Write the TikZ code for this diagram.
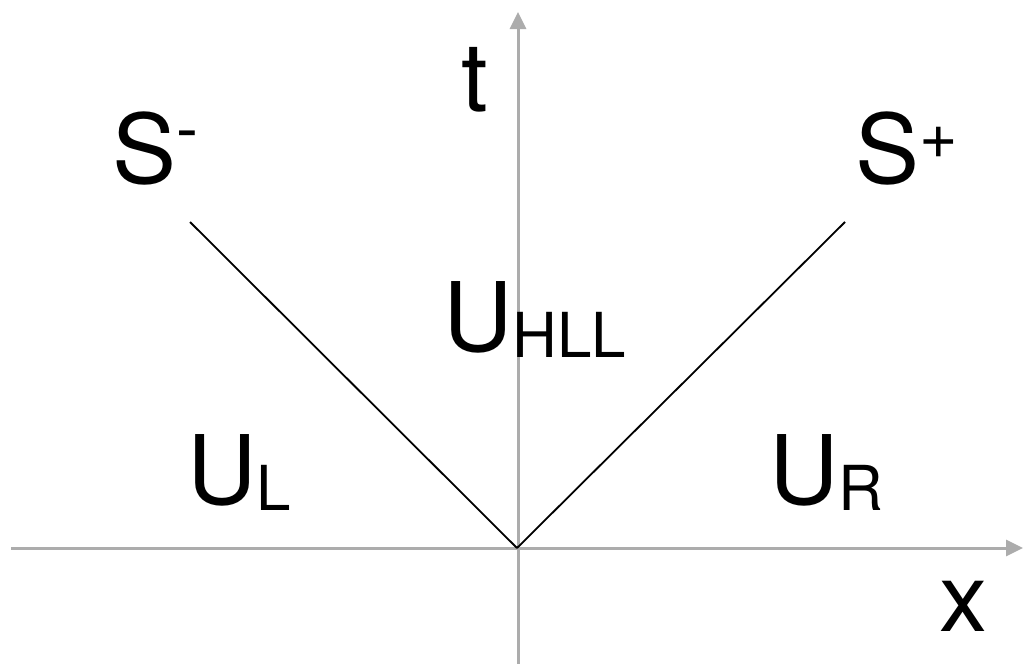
\documentclass[tikz,border=0pt]{standalone}
\usepackage{fontspec}
\setmainfont{TeX Gyre Heros}
\usetikzlibrary{arrows.meta}
\definecolor{axisgray}{RGB}{172,172,172}
\newcommand{\bigf}{\fontsize{96}{96}\selectfont}
\newcommand{\subf}[1]{\raisebox{-6pt}{\fontsize{62}{62}\selectfont #1}}
\newcommand{\supf}[3]{\raisebox{#1}{\fontsize{#2}{#2}\selectfont #3}}
\begin{document}
\begin{tikzpicture}[x=1pt,y=-1pt,
  axis/.style={draw=axisgray,line width=3pt,-{Triangle[length=17pt,width=16pt]},color=axisgray},
  shock/.style={draw=black,line width=1.8pt},
  lbl/.style={inner sep=0pt,outer sep=0pt,anchor=base west,font=\bigf}]
\useasboundingbox (0,0) rectangle (1023,664);
\coordinate (O) at (517,548);
\coordinate (xl) at (11,548);
\coordinate (xr) at (1023,548);
\coordinate (tb) at (518,664);
\coordinate (tt) at (518,12);
\coordinate (sm) at (190,222);
\coordinate (sp) at (845,222);
\draw[axis] (xl) -- (xr);
\draw[axis] (tb) -- (tt);
\draw[shock] (O) -- (sm);
\draw[shock] (O) -- (sp);
\node[lbl] (tlab) at (461,111) {t};
\node[lbl] (xlab) at (939,631) {x};
\node[lbl] (smlab) at (112,183) {S\supf{32pt}{66}{-}};
\node[lbl] (splab) at (855,183) {S\supf{25pt}{66}{+}};
\node[lbl] (ulab) at (187,504) {U\subf{L}};
\node[lbl] (urlab) at (769,504) {U\subf{R}};
\node[lbl] (uhlab) at (443,351) {U\subf{HLL}};
\end{tikzpicture}
\end{document}
